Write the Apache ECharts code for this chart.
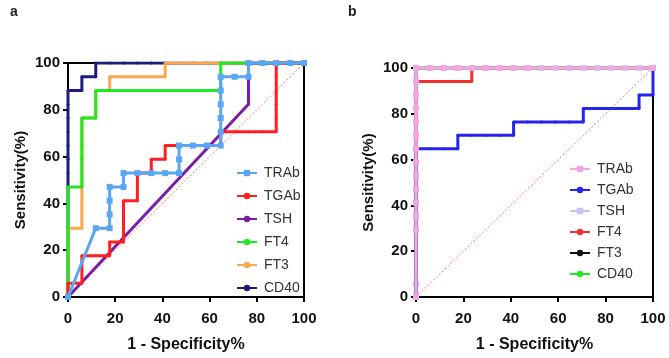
<!DOCTYPE html>
<html>
<head>
<meta charset="utf-8">
<script src="https://cdn.jsdelivr.net/npm/echarts/dist/echarts.min.js"></script>
<style>
html, body { margin: 0; padding: 0; background: #fff; }
#chart { width: 669px; height: 358px; }
</style>
</head>
<body>
<div id="chart"></div>
<script>
// ROC points [1 - specificity %, sensitivity %]
var xTicks = [0, 20, 40, 60, 80, 100];
var names = ['TRAb', 'TGAb', 'TSH', 'FT4', 'FT3', 'CD40'];

// panel a
var aTRAb = [[0,0],[11.76,29.41],[17.65,29.41],[17.65,35.29],[17.65,41.18],[17.65,47.06],[23.53,47.06],[23.53,52.94],[29.41,52.94],[35.29,52.94],[41.18,52.94],[47.06,52.94],[47.06,58.82],[47.06,64.71],[52.94,64.71],[58.82,64.71],[64.71,64.71],[64.71,70.59],[64.71,76.47],[64.71,82.35],[64.71,88.24],[64.71,94.12],[70.59,94.12],[76.47,94.12],[76.47,100],[82.35,100],[88.24,100],[94.12,100],[100,100]];
var aTGAb = [[0,0],[0,5.88],[5.88,5.88],[5.88,11.76],[5.88,17.65],[11.76,17.65],[17.65,17.65],[17.65,23.53],[23.53,23.53],[23.53,29.41],[23.53,35.29],[23.53,41.18],[29.41,41.18],[29.41,47.06],[29.41,52.94],[35.29,52.94],[35.29,58.82],[41.18,58.82],[41.18,64.71],[47.06,64.71],[52.94,64.71],[58.82,64.71],[64.71,64.71],[64.71,70.59],[70.59,70.59],[76.47,70.59],[82.35,70.59],[88.24,70.59],[88.24,76.47],[88.24,82.35],[88.24,88.24],[88.24,94.12],[88.24,100],[94.12,100],[100,100]];
var aTSH = [[0,0],[76.47,82.35],[76.47,88.24],[76.47,94.12],[76.47,100],[82.35,100],[88.24,100],[94.12,100],[100,100]];
var aFT4 = [[0,0],[0,5.88],[0,11.76],[0,17.65],[0,23.53],[0,29.41],[0,35.29],[0,41.18],[0,47.06],[5.88,47.06],[5.88,52.94],[5.88,58.82],[5.88,64.71],[5.88,70.59],[5.88,76.47],[11.76,76.47],[11.76,82.35],[11.76,88.24],[17.65,88.24],[23.53,88.24],[29.41,88.24],[35.29,88.24],[41.18,88.24],[47.06,88.24],[52.94,88.24],[58.82,88.24],[64.71,88.24],[64.71,94.12],[64.71,100],[70.59,100],[76.47,100],[82.35,100],[88.24,100],[94.12,100],[100,100]];
var aFT3 = [[0,0],[0,5.88],[0,11.76],[0,17.65],[0,23.53],[0,29.41],[5.88,29.41],[5.88,35.29],[5.88,41.18],[5.88,47.06],[5.88,52.94],[5.88,58.82],[5.88,64.71],[5.88,70.59],[5.88,76.47],[11.76,76.47],[11.76,82.35],[11.76,88.24],[17.65,88.24],[17.65,94.12],[23.53,94.12],[29.41,94.12],[35.29,94.12],[41.18,94.12],[41.18,100],[47.06,100],[52.94,100],[58.82,100],[64.71,100],[70.59,100],[76.47,100],[82.35,100],[88.24,100],[94.12,100],[100,100]];
var aCD40 = [[0,0],[0,5.88],[0,11.76],[0,17.65],[0,23.53],[0,29.41],[0,35.29],[0,41.18],[0,47.06],[0,52.94],[0,58.82],[0,64.71],[0,70.59],[0,76.47],[0,82.35],[0,88.24],[5.88,88.24],[5.88,94.12],[11.76,94.12],[11.76,100],[17.65,100],[23.53,100],[29.41,100],[35.29,100],[41.18,100],[47.06,100],[52.94,100],[58.82,100],[64.71,100],[70.59,100],[76.47,100],[82.35,100],[88.24,100],[94.12,100],[100,100]];

// panel b
var bTRAb = [[0,0],[0,29.41],[0,35.29],[0,41.18],[0,47.06],[0,52.94],[0,58.82],[0,64.71],[0,70.59],[0,76.47],[0,82.35],[0,88.24],[0,94.12],[0,100],[5.88,100],[11.76,100],[17.65,100],[23.53,100],[29.41,100],[35.29,100],[41.18,100],[47.06,100],[100,100]];
var bTGAb = [[0,0],[0,64.71],[5.88,64.71],[11.76,64.71],[17.65,64.71],[17.65,70.59],[23.53,70.59],[29.41,70.59],[35.29,70.59],[41.18,70.59],[41.18,76.47],[47.06,76.47],[52.94,76.47],[58.82,76.47],[64.71,76.47],[70.59,76.47],[70.59,82.35],[76.47,82.35],[82.35,82.35],[88.24,82.35],[94.12,82.35],[94.12,88.24],[100,88.24],[100,100]];
var bTSH = [[0,0],[0,5.88],[0,100],[52.94,100],[58.82,100],[64.71,100],[70.59,100],[76.47,100],[82.35,100],[88.24,100],[94.12,100],[100,100]];
var bFT4 = [[0,0],[0,94.12],[5.88,94.12],[11.76,94.12],[17.65,94.12],[23.53,94.12],[23.53,100],[100,100]];
var bFT3 = [[0,0],[0,11.76],[0,17.65],[0,23.53],[0,100],[100,100]];
var bCD40 = [[0,0],[0,100],[100,100]];

var diag = [[0,0],[100,100]];

var aColors = ['#5ba6f2', '#ff1f1f', '#7a1ca6', '#22e822', '#ffa64d', '#1c1c7e'];
var bColors = ['#f4a6e4', '#2424ee', '#c6c6f6', '#f23030', '#111111', '#22e822'];

var FONT = 'Liberation Sans, Arial, Helvetica, sans-serif';

function line(name, data, color, gi, z, sym, symSize) {
	return {
		name: name,
		type: 'line',
		xAxisIndex: gi,
		yAxisIndex: gi,
		data: data,
		z: z,
		symbol: sym || 'circle',
		symbolSize: symSize || 3,
		showSymbol: true,
		animation: false,
		lineStyle: { color: color, width: 3 },
		itemStyle: { color: color, borderWidth: 0 },
		emphasis: { disabled: true }
	};
}

function refLine(gi) {
	return {
		type: 'line',
		xAxisIndex: gi,
		yAxisIndex: gi,
		data: diag,
		z: 1,
		symbol: 'none',
		silent: true,
		animation: false,
		lineStyle: { color: '#ff7070', width: 1, type: [2, 2] }
	};
}

function xAx(gi) {
	return {
		type: 'value', gridIndex: gi, min: 0, max: 100, interval: 20,
		name: '1 - Specificity%', nameLocation: 'middle', nameGap: 40,
		nameTextStyle: { fontFamily: FONT, fontWeight: 'bold', fontSize: 16, color: '#111' },
		axisLine: { lineStyle: { color: '#000', width: 2 } },
		axisTick: { length: 5, lineStyle: { color: '#000', width: 2 } },
		axisLabel: { fontFamily: FONT, fontWeight: 'bold', fontSize: 15, color: '#111', margin: 14 },
		splitLine: { show: false }
	};
}

function yAx(gi) {
	return {
		type: 'value', gridIndex: gi, min: 0, max: 100, interval: 20,
		name: 'Sensitivity(%)', nameLocation: 'middle', nameGap: 40,
		nameTextStyle: { fontFamily: FONT, fontWeight: 'bold', fontSize: 15, color: '#111' },
		axisLine: { lineStyle: { color: '#000', width: 2 } },
		axisTick: { length: 5, lineStyle: { color: '#000', width: 2 } },
		axisLabel: { fontFamily: FONT, fontWeight: 'bold', fontSize: 15, color: '#111', margin: 8 },
		splitLine: { show: false }
	};
}

function legend(prefix, left, top, gap) {
	return {
		orient: 'vertical',
		left: left,
		top: top,
		itemWidth: 20,
		itemHeight: 8,
		itemGap: gap,
		selectedMode: false,
		data: names.map(function (n) { return prefix + n; }),
		formatter: function (n) { return n.split(':')[1]; },
		textStyle: { fontFamily: FONT, fontSize: 14, color: '#333', padding: [0, 0, 0, 2] }
	};
}

var aData = [aTRAb, aTGAb, aTSH, aFT4, aFT3, aCD40];
var bData = [bTRAb, bTGAb, bTSH, bFT4, bFT3, bCD40];
var series = [refLine(0), refLine(1)];
var i;
for (i = 0; i < names.length; i++) {
	series.push(line('a:' + names[i], aData[i], aColors[i], 0, 20 - i,
		i == 0 ? 'rect' : 'circle', i == 0 ? 6 : 3));
	series.push(line('b:' + names[i], bData[i], bColors[i], 1, 20 - i,
		(i == 0 || i == 2) ? 'rect' : 'circle', (i == 0 || i == 2) ? 6 : 3));
}

var chart = echarts.init(document.getElementById('chart'), null, { renderer: 'canvas' });
chart.setOption({
	animation: false,
	backgroundColor: '#fff',
	textStyle: { fontFamily: FONT },
	title: [
		{ text: 'a', left: 5, top: 0, textStyle: { fontFamily: FONT, fontSize: 14, fontWeight: 'bold', color: '#222' } },
		{ text: 'b', left: 343, top: 0, textStyle: { fontFamily: FONT, fontSize: 14, fontWeight: 'bold', color: '#222' } }
	],
	grid: [
		{ left: 68, top: 63, width: 236, height: 240, show: true, borderColor: '#000', borderWidth: 2 },
		{ left: 416, top: 68, width: 237, height: 230, show: true, borderColor: '#000', borderWidth: 2 }
	],
	xAxis: [xAx(0), xAx(1)],
	yAxis: [yAx(0), yAx(1)],
	legend: [legend('a:', 231, 161, 9), legend('b:', 564, 157, 7)],
	series: series
});
</script>
</body>
</html>
